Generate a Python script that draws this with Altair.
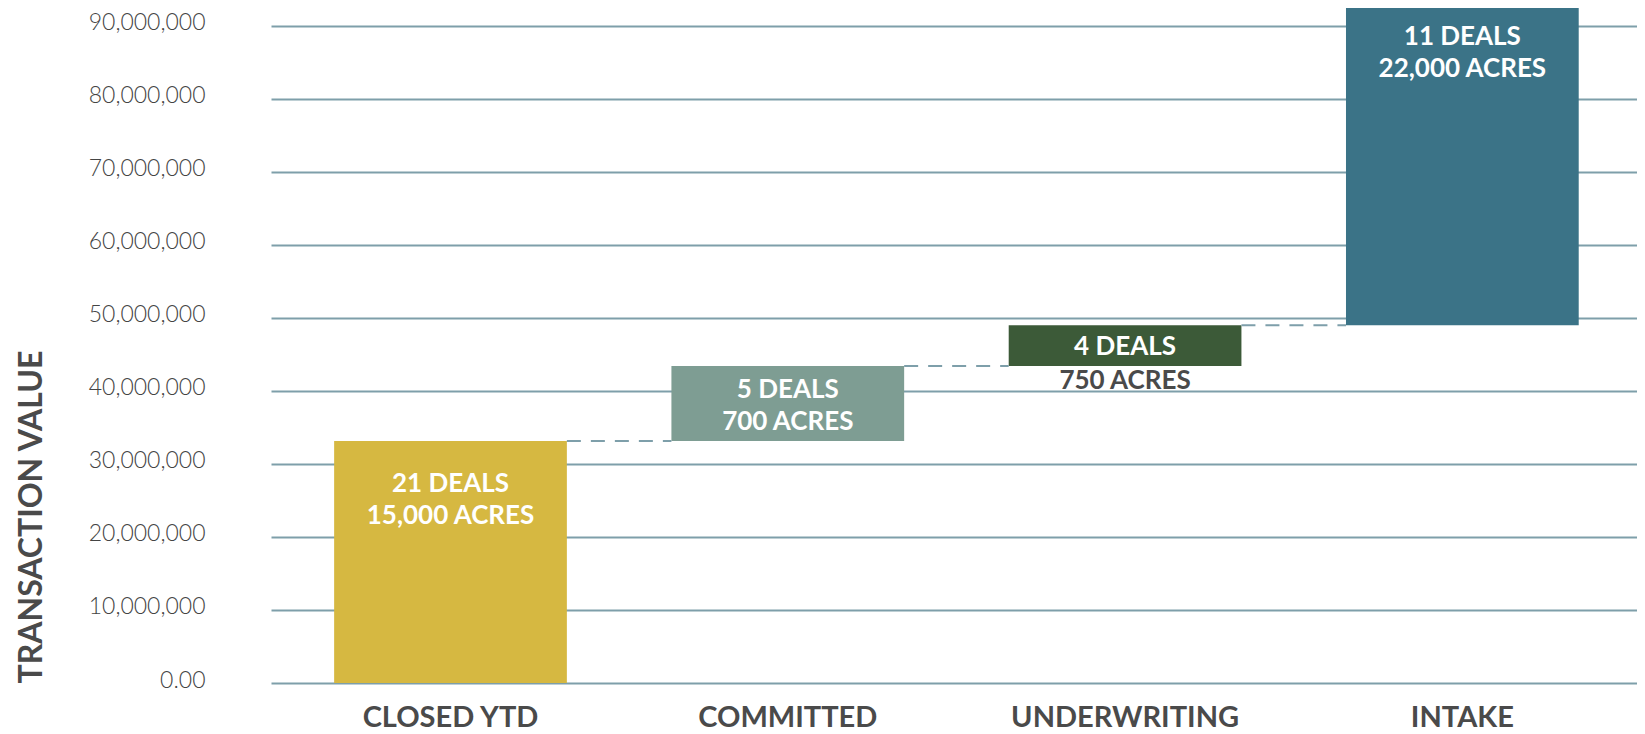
import altair as alt
import pandas as pd

# ---- data ----
stages = ["CLOSED YTD", "COMMITTED", "UNDERWRITING", "INTAKE"]
increments = [33_150_000, 10_250_000, 5_600_000, 43_900_000]
deals = ["21 DEALS", "5 DEALS", "4 DEALS", "11 DEALS"]
acres = ["15,000 ACRES", "700 ACRES", "750 ACRES", "22,000 ACRES"]
y_ticks = [0, 10_000_000, 20_000_000, 30_000_000, 40_000_000,
           50_000_000, 60_000_000, 70_000_000, 80_000_000, 90_000_000]

# ---- styles ----
bar_colors = ["#D6B841", "#7E9D93", "#3C5A38", "#3B7387"]
acre_colors = ["#FFFFFF", "#FFFFFF", "#4A4A4A", "#FFFFFF"]
deal_dy = [43, 24, 22, 32]
acre_dy = [75, 56, 56, 64]
grid_color = "#7E9FAA"
FONT = "Lato"

df = pd.DataFrame({"stage": stages, "inc": increments, "deals": deals, "acres": acres})
df["top"] = df["inc"].cumsum()
df["base"] = df["top"] - df["inc"]
df["next"] = stages[1:] + [None]

yscale = alt.Scale(domain=[0, 91_900_000], nice=False, zero=True)
xscale = alt.Scale(domain=stages, paddingInner=0.31, paddingOuter=0.18, align=0.52)

x_enc = alt.X(
    "stage:N", scale=xscale, sort=stages,
    axis=alt.Axis(title=None, labelFont=FONT, labelFontSize=29, labelFontWeight="bold",
                  labelColor="#4A4A4A", labelPadding=34, labelBaseline="middle",
                  labelAngle=0, labelLimit=0, domain=False, ticks=False, grid=False),
)
y_enc = alt.Y(
    "base:Q", scale=yscale,
    axis=alt.Axis(values=y_ticks,
                  labelExpr="datum.value == 0 ? '0.00' : format(datum.value, ',')",
                  title="TRANSACTION VALUE", titleFont=FONT, titleFontSize=32,
                  titleFontWeight="bold", titleColor="#4A4A4A", titleAnchor="start",
                  titleX=-240, titleBaseline="middle", titleLimit=0,
                  labelFont=FONT, labelFontSize=23, labelFontWeight=300,
                  labelColor="#444444",
                  labelPadding=66, labelOffset=-3, domain=False, ticks=False,
                  grid=True, gridColor=grid_color, gridWidth=2),
)

base = alt.Chart(df)

bars = base.mark_bar().encode(
    x=x_enc,
    y=y_enc,
    y2="top:Q",
    color=alt.Color("stage:N", scale=alt.Scale(domain=stages, range=bar_colors), legend=None),
)

connectors = base.transform_filter("datum.next != null").mark_rule(
    strokeDash=[14, 10], strokeWidth=2, color=grid_color
).encode(
    x=alt.X("stage:N", sort=stages, bandPosition=1),
    x2=alt.X2("next", bandPosition=0),
    y="top:Q",
)

layers = [bars, connectors]
for i, s in enumerate(stages):
    f = base.transform_filter(alt.datum.stage == s)
    layers.append(
        f.mark_text(font=FONT, fontSize=26, fontWeight="bold", color="#FFFFFF",
                    baseline="middle", align="center", dy=deal_dy[i]).encode(
            x=alt.X("stage:N", sort=stages), y="top:Q", text="deals:N")
    )
    layers.append(
        f.mark_text(font=FONT, fontSize=26, fontWeight="bold", color=acre_colors[i],
                    baseline="middle", align="center", dy=acre_dy[i]).encode(
            x=alt.X("stage:N", sort=stages), y="top:Q", text="acres:N")
    )

chart = alt.layer(*layers).properties(
    width=1366, height=671,
    autosize=alt.AutoSizeParams(type="none"),
    padding={"left": 263, "top": 4, "right": 0, "bottom": 51},
    background="#FFFFFF",
).configure_view(stroke=None)

chart.save("out.html", embed_options={"renderer": "svg", "actions": False})
